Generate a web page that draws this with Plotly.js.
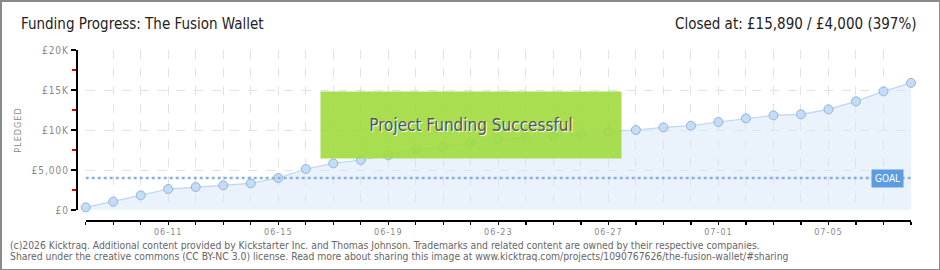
<!DOCTYPE html>
<html>
<head>
<meta charset="utf-8">
<script src="https://cdn.plot.ly/plotly-3.0.1.min.js"></script>
<style>
  html, body { margin: 0; padding: 0; background: #fff; }
  #wrap { position: relative; width: 940px; height: 270px; }
  #chart { width: 940px; height: 270px; }
  #frame { position: absolute; left: 0; top: 0; width: 940px; height: 270px; box-sizing: border-box;
           border: 1px solid #8a8a8a; border-left-width: 2px; border-top-width: 2px; pointer-events: none; }
  .ytick text, .xtick text, .g-ytitle text { letter-spacing: 1px; }
</style>
</head>
<body>
<div id="wrap"><div id="chart"></div><div id="frame"></div></div>
<script>
// ---- data ----
const dates = ['2025-06-08','2025-06-09','2025-06-10','2025-06-11','2025-06-12','2025-06-13','2025-06-14',
  '2025-06-15','2025-06-16','2025-06-17','2025-06-18','2025-06-19','2025-06-20','2025-06-21','2025-06-22',
  '2025-06-23','2025-06-24','2025-06-25','2025-06-26','2025-06-27','2025-06-28','2025-06-29','2025-06-30',
  '2025-07-01','2025-07-02','2025-07-03','2025-07-04','2025-07-05','2025-07-06','2025-07-07','2025-07-08'];
const pledged = [330, 1040, 1830, 2620, 2870, 3080, 3330, 4000, 5125, 5830, 6250, 6830, 7580, 7875, 8460,
  8875, 9000, 9250, 9500, 9875, 10000, 10330, 10540, 11000, 11460, 11830, 11960, 12580, 13580, 14830, 15890];
const goal = 4000;
const yTickVals = [0, 5000, 10000, 15000, 20000];
const yTickText = ['£0', '£5,000', '£10K', '£15K', '£20K'];
const titleText = 'Funding Progress: The Fusion Wallet';
const closedText = 'Closed at: £15,890 / £4,000 (397%)';
const footer1 = '(c)2026 Kicktraq. Additional content provided by Kickstarter Inc. and Thomas Johnson. Trademarks and related content are owned by their respective companies.';
const footer2 = 'Shared under the creative commons (CC BY-NC 3.0) license. Read more about sharing this image at www.kicktraq.com/projects/1090767626/the-fusion-wallet/#sharing';

// ---- layout geometry (pixels) ----
const W = 940, H = 270;
const mL = 76, mR = 29.3, mT = 50, mB = 50;
const pw = W - mL - mR, ph = H - mT - mB;
const px = x => (x - mL) / pw;          // pixel -> paper x
const py = y => (H - mB - y) / ph;      // pixel -> paper y

const FONT = '"DejaVu Sans Condensed", sans-serif';

const traces = [
  {
    x: dates, y: pledged, type: 'scatter', mode: 'lines+markers',
    fill: 'tozeroy', fillcolor: 'rgba(214,232,250,0.5)',
    line: {color: '#bcd6f2', width: 1.2},
    marker: {size: 9, color: '#c4dcf6', line: {color: '#93b4da', width: 1}},
    cliponaxis: false, hoverinfo: 'skip'
  },
  {
    x: [dates[0], dates[dates.length - 1]], y: [goal, goal], type: 'scatter', mode: 'lines',
    line: {color: '#8db0da', width: 2.5, dash: 'dot'}, hoverinfo: 'skip'
  }
];

const layout = {
  width: W, height: H,
  margin: {l: mL, r: mR, t: mT, b: mB, pad: 0},
  paper_bgcolor: '#fff', plot_bgcolor: 'rgba(0,0,0,0)',
  showlegend: false,
  font: {family: FONT, color: '#777'},
  xaxis: {
    type: 'date', range: [dates[0], dates[dates.length - 1]],
    domain: [px(85.7), 1], anchor: 'free', position: 0,
    tickformat: '%m-%d', tick0: '2025-06-11', dtick: 4 * 86400000,
    ticks: 'outside', ticklen: 3, tickwidth: 1.3, tickcolor: '#000',
    showline: true, linecolor: '#000', linewidth: 1.5,
    showgrid: true, gridcolor: '#e2e2e2', griddash: 'dash', gridwidth: 1,
    zeroline: false,
    tickfont: {size: 9, color: '#888', family: FONT},
    minor: {dtick: 86400000, tick0: '2025-06-08', ticks: 'outside', ticklen: 3, tickwidth: 1.3, tickcolor: '#000',
            showgrid: true, gridcolor: '#e2e2e2', griddash: 'dash', gridwidth: 1}
  },
  yaxis: {
    range: [0, 20000], domain: [py(210), 1], anchor: 'free', position: 0,
    tickvals: yTickVals, ticktext: yTickText,
    ticks: 'outside', ticklen: 5, tickwidth: 1.3, tickcolor: '#000',
    showline: true, linecolor: '#000', linewidth: 1.5,
    showgrid: true, gridcolor: '#e2e2e2', griddash: 'dash', gridwidth: 1,
    zeroline: false,
    tickfont: {size: 10, color: '#888', family: FONT},
    title: {text: 'PLEDGED', font: {size: 9, color: '#888', family: FONT}, standoff: 7},
    minor: {dtick: 2500, ticks: 'outside', ticklen: 4, tickwidth: 1.3, tickcolor: '#e00', showgrid: false}
  },
  annotations: [
    {xref: 'paper', yref: 'paper', x: px(19), y: py(24), xanchor: 'left', yanchor: 'middle',
     text: titleText, showarrow: false, font: {size: 15, color: '#222', family: FONT}},
    {xref: 'paper', yref: 'paper', x: px(919), y: py(24), xanchor: 'right', yanchor: 'middle',
     text: closedText, showarrow: false, font: {size: 15, color: '#222', family: FONT}},
    {xref: 'paper', yref: 'paper', x: px(470.5), y: py(125), xanchor: 'center', yanchor: 'middle',
     text: 'Project Funding Successful', showarrow: false, width: 296, height: 62,
     bgcolor: 'rgba(160,218,62,0.9)', borderpad: 2,
     font: {size: 17, color: '#555', family: FONT, shadow: '1px 1px 0px #ffffff'}},
    {xref: 'paper', yref: 'y', x: px(904), y: goal, xanchor: 'right', yanchor: 'middle',
     text: 'GOAL', showarrow: false, bgcolor: '#5c9ce0', borderpad: 3,
     font: {size: 10, color: '#fff', family: FONT}},
    {xref: 'paper', yref: 'paper', x: px(8), y: py(244.5), xanchor: 'left', yanchor: 'middle',
     text: footer1, showarrow: false, font: {size: 10.3, color: '#666', family: FONT}},
    {xref: 'paper', yref: 'paper', x: px(8), y: py(256), xanchor: 'left', yanchor: 'middle',
     text: footer2, showarrow: false, font: {size: 10.3, color: '#666', family: FONT}}
  ]
};

Plotly.newPlot('chart', traces, layout, {staticPlot: true, displayModeBar: false});
</script>
</body>
</html>
